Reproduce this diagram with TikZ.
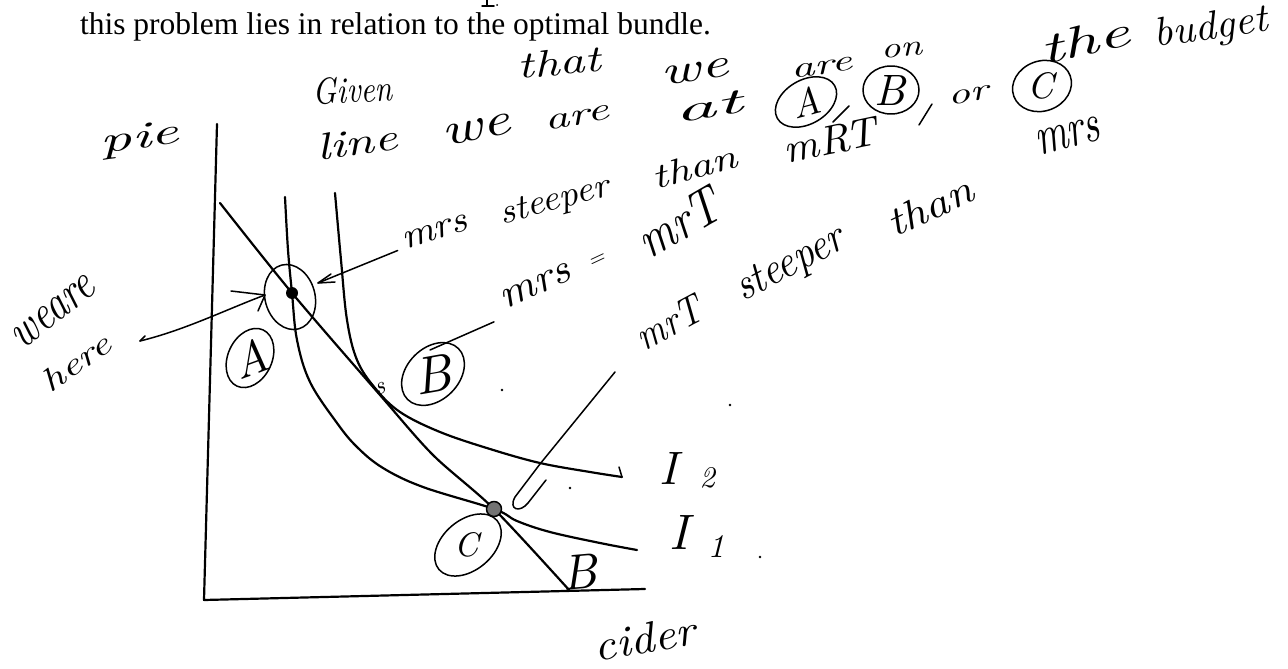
\documentclass[tikz,border=0pt]{standalone}
\usepackage{fontspec}
\newfontfamily\printfont{Liberation Serif}
\newcommand\hw[3]{\resizebox{#1pt}{#2pt}{\itshape #3\/}}
\newcommand\hh[2]{\resizebox{!}{#1pt}{\itshape #2\/}}
\begin{document}
\begin{tikzpicture}[x=1pt,y=-1pt,
  curve/.style={line width=2.2pt, line cap=round, line join=round},
  pen/.style={line width=1.5pt, line cap=round, line join=round},
  word/.style={inner sep=0pt, outer sep=0pt}]
\useasboundingbox (0,0) rectangle (1288,669);
\fill[white] (0,0) rectangle (1288,669);

% printed line and fragment of the line above
\node[word, anchor=base west] (printed) at (80,35) {\printfont\fontsize{31.5}{31.5}\selectfont this problem lies in relation to the optimal bundle.};
\draw[pen] (487,0) -- (487,6);
\draw[pen] (482,6) -- (494,6);
\fill (497,5) circle (1pt);

% handwritten first line
\node[word, rotate=3]  (g1) at (353,90)  {\hw{80}{26}{Given}};
\node[word, rotate=5]  (g2) at (560,62)  {\hw{85}{26}{that}};
\node[word, rotate=8]  (g3) at (695,72)  {\hw{68}{18}{we}};
\node[word, rotate=8]  (g4) at (822,68)  {\hw{62}{13}{are}};
\node[word, rotate=5]  (g5) at (902,50)  {\hw{42}{13}{on}};
\node[word, rotate=12] (g6) at (1085,40) {\hw{92}{30}{the}};
\node[word, rotate=8]  (g7) at (1212,29) {\hw{116}{28}{budget}};

% second line
\node[word, rotate=8]  (l1) at (357,142) {\hw{82}{26}{line}};
\node[word, rotate=12] (l2) at (477,130) {\hw{70}{20}{we}};
\node[word, rotate=10] (l3) at (577,118) {\hw{65}{14}{are}};
\node[word, rotate=10] (l4) at (710,107) {\hw{72}{22}{at}};
\node[word, rotate=15] (cA) at (806,102) {\hh{28}{A}};
\draw[pen, rotate around={30:(806,102)}] (806,102) ellipse [x radius=33, y radius=22];
\node[word] (cB) at (891,90) {\hh{30}{B}};
\draw[pen] (891,90) ellipse [x radius=28, y radius=24];
\draw[pen] (932,104) -- (919,125);
\node[word, rotate=10] (l5) at (970,95)  {\hw{44}{13}{or}};
\node[word] (cC) at (1042,86) {\hh{26}{C}};
\draw[pen, rotate around={20:(1042,86)}] (1042,86) ellipse [x radius=30, y radius=25];
\node[word, rotate=12] (l6) at (832,140) {\hw{98}{28}{mRT}};
\draw[pen] (833,122) -- (849,106);
\node[word, rotate=15] (l7) at (1068,136) {\hw{66}{24}{mrs}};

% annotation phrases
\node[word, rotate=18] (p1) at (435,232) {\hw{68}{16}{mrs}};
\node[word, rotate=15] (p2) at (556,202) {\hw{115}{22}{steeper}};
\node[word, rotate=15] (p3) at (695,167) {\hw{88}{24}{than}};

\node[word, rotate=25] (q1) at (536,286) {\hw{75}{18}{mrs}};
\node[word, rotate=25] (q2) at (597,261) {\hw{18}{8}{=}};
\node[word, rotate=30] (q3) at (680,222) {\hw{90}{36}{mrT}};

\node[word, rotate=28] (r1) at (670,322) {\hw{72}{28}{mrT}};
\node[word, rotate=28] (r2) at (792,265) {\hw{120}{28}{steeper}};
\node[word, rotate=25] (r3) at (930,206) {\hw{92}{28}{than}};

\node[word, rotate=38] (w1) at (54,312) {\hw{96}{22}{weare}};
\node[word, rotate=35] (w2) at (76,362) {\hw{78}{22}{here}};

% axes labels
\node[word, rotate=8]  (pie) at (140,140) {\hw{80}{24}{pie}};
\node[word, rotate=10] (cider) at (646,638) {\hw{105}{30}{cider}};
\node[word] (I2a) at (671,468) {\hh{32}{I}};
\node[word] (I2b) at (708,478) {\hh{20}{2}};
\node[word] (I1a) at (682,532) {\hh{34}{I}};
\node[word] (I1b) at (716,546) {\hh{22}{1}};
\node[word, rotate=5] (Bl) at (580,572) {\hh{34}{B}};

% axes
\coordinate (top) at (217,124);
\coordinate (origin) at (204,600);
\coordinate (xend) at (645,589);
\draw[curve] (top) -- (origin) -- (xend);

% budget line
\coordinate (Apt) at (292,293);
\coordinate (Cpt) at (494,509);
\draw[curve] plot[smooth, tension=0.5] coordinates {(220,203) (Apt) (380,395) (433,455) (Cpt) (570,591)};

% indifference curves
\draw[curve] plot[smooth, tension=0.6] coordinates {(285,197) (288,250) (Apt) (297,340) (310,382) (337,423) (357,447) (383,468) (423,487) (Cpt) (517,521) (550,532) (600,543) (637,550)};
\draw[curve] plot[smooth, tension=0.6] coordinates {(335,193) (341,260) (347,320) (357,360) (375,388) (400,412) (440,432) (490,449) (540,463) (590,472) (622,477)};
\draw[pen] (622,477) -- (619,467);

% points
\fill (Apt) circle (6);
\draw[pen, fill=black!55] (Cpt) circle (7.5);
\draw[pen, rotate around={15:(290,297)}] (290,297) ellipse [x radius=25, y radius=33];

% circled labels in the graph
\node[word, rotate=20] (LA) at (250,358) {\hh{34}{A}};
\draw[pen, rotate around={-25:(250,358)}] (250,358) ellipse [x radius=22, y radius=31];
\node[word, rotate=10] (LB) at (433,374) {\hh{36}{B}};
\draw[pen, rotate around={45:(433,374)}] (433,374) ellipse [x radius=36, y radius=26];
\node[word] (LC) at (468,545) {\hh{24}{C}};
\draw[pen, rotate around={40:(468,545)}] (468,545) ellipse [x radius=38, y radius=25];
\node[word, rotate=20] (smark) at (381,389) {\hh{11}{s}};

% pointers
\coordinate (wstart) at (140,341);
\coordinate (wtip) at (265,295);
\draw[pen] (wstart) .. controls (185,330) and (225,310) .. (wtip);
\draw[pen] (231,291) -- (wtip) -- (258,311);
\draw[pen] (145,336) -- (wstart);
\coordinate (p1tip) at (318,283);
\draw[pen] (p1.west) ++(-5,8) -- (p1tip);
\draw[pen] (331,274) -- (p1tip) -- (335,282);
\draw[pen] (q1.west) ++(-8,20) -- (430,350);
\draw[pen] (615,372) -- (540,464) -- (515,497) .. controls (508,510) and (520,513) .. (528,503) -- (546,480);

% scan specks
\fill (502,390) circle (1.3);
\fill (570,488) circle (1.3);
\fill (730,405) circle (1.3);
\fill (760,557) circle (1.3);
\end{tikzpicture}
\end{document}
